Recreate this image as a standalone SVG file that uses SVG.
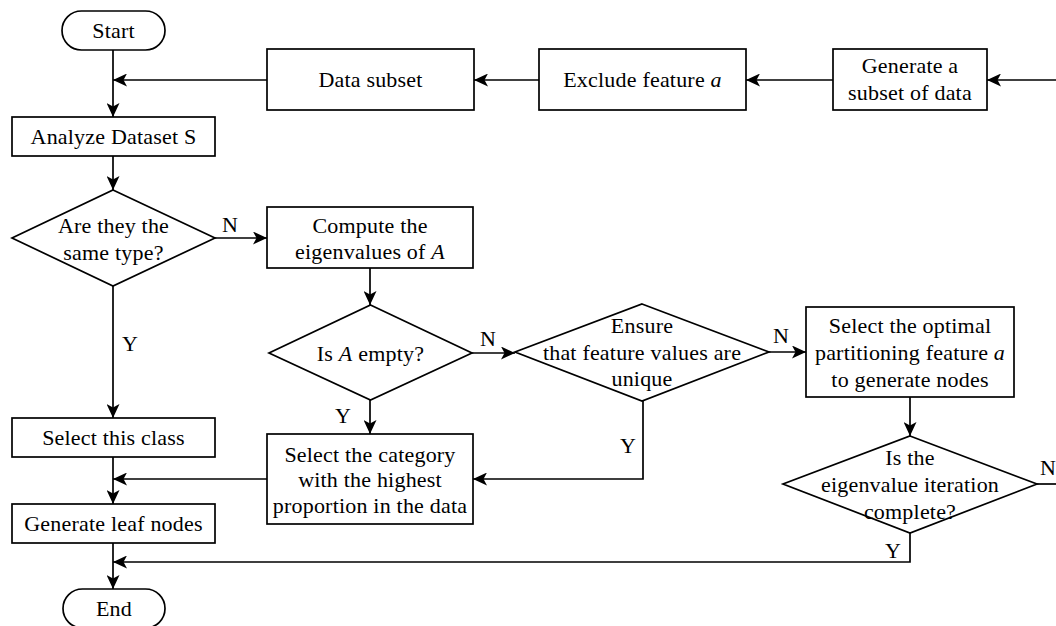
<svg xmlns="http://www.w3.org/2000/svg" width="1056" height="626" viewBox="0 0 1056 626">
<style>
.s{fill:#fff;stroke:#000;stroke-width:1.7}
.t{font-family:"Liberation Serif","Times New Roman",serif;font-size:22px;fill:#000;text-anchor:middle;letter-spacing:0.2px}
.c{fill:none;stroke:#000;stroke-width:1.7}
.i{font-style:italic}
</style>
<defs>
<marker id="ah" markerUnits="userSpaceOnUse" markerWidth="15" markerHeight="13" refX="14" refY="6.5" orient="auto">
<path d="M0,0 L14,6.5 L0,13 L3.5,6.5 Z" fill="#000"/>
</marker>
</defs>
<rect width="1056" height="626" fill="#fff"/>
<g id="connectors">
<path class="c" d="M113,50 V117" marker-end="url(#ah)"/>
<path class="c" d="M267,80 H113" marker-end="url(#ah)"/>
<path class="c" d="M539,80 H474" marker-end="url(#ah)"/>
<path class="c" d="M833,80 H746" marker-end="url(#ah)"/>
<path class="c" d="M1056,80 H987" marker-end="url(#ah)"/>
<path class="c" d="M113,156 V190" marker-end="url(#ah)"/>
<path class="c" d="M215,238 H267" marker-end="url(#ah)"/>
<path class="c" d="M113,286 V418" marker-end="url(#ah)"/>
<path class="c" d="M370,268 V305" marker-end="url(#ah)"/>
<path class="c" d="M472,353 H515" marker-end="url(#ah)"/>
<path class="c" d="M370,400 V434" marker-end="url(#ah)"/>
<path class="c" d="M769,352 H806" marker-end="url(#ah)"/>
<path class="c" d="M643,401 V479 H473" marker-end="url(#ah)"/>
<path class="c" d="M267,479 H113" marker-end="url(#ah)"/>
<path class="c" d="M113,457 V504" marker-end="url(#ah)"/>
<path class="c" d="M910,397 V436" marker-end="url(#ah)"/>
<path class="c" d="M1037,484 H1056"/>
<path class="c" d="M910,533 V562 H113" marker-end="url(#ah)"/>
<path class="c" d="M113,543 V589" marker-end="url(#ah)"/>
<text class="t" x="230" y="232">N</text>
<text class="t" x="130" y="351">Y</text>
<text class="t" x="488" y="346">N</text>
<text class="t" x="343" y="423">Y</text>
<text class="t" x="781" y="343">N</text>
<text class="t" x="628" y="453">Y</text>
<text class="t" x="1048" y="475">N</text>
<text class="t" x="893" y="558">Y</text>
</g>
<g id="start">
<rect class="s" x="62" y="11" width="103" height="39" rx="19.5"/>
<text class="t" x="113.5" y="38">Start</text>
</g>
<g id="analyze">
<rect class="s" x="12" y="117" width="203" height="39"/>
<text class="t" x="113.5" y="144">Analyze Dataset S</text>
</g>
<g id="data-subset">
<rect class="s" x="267" y="49" width="207" height="61"/>
<text class="t" x="370.5" y="87">Data subset</text>
</g>
<g id="exclude">
<rect class="s" x="539" y="49" width="207" height="61"/>
<text class="t" x="642.5" y="87">Exclude feature <tspan class="i">a</tspan></text>
</g>
<g id="generate-subset">
<rect class="s" x="833" y="49" width="154" height="61"/>
<text class="t" x="910" y="73">Generate a</text>
<text class="t" x="910" y="100">subset of data</text>
</g>
<g id="same-type">
<polygon class="s" points="113,190 215,238 113,286 12,238"/>
<text class="t" x="113.5" y="233">Are they the</text>
<text class="t" x="113.5" y="260">same type?</text>
</g>
<g id="compute">
<rect class="s" x="267" y="207" width="206" height="61"/>
<text class="t" x="370" y="233">Compute the</text>
<text class="t" x="370" y="259">eigenvalues of <tspan class="i">A</tspan></text>
</g>
<g id="is-empty">
<polygon class="s" points="370.5,305 472,353 370.5,400 269,353"/>
<text class="t" x="370.5" y="361">Is <tspan class="i">A</tspan> empty?</text>
</g>
<g id="ensure">
<polygon class="s" points="642,304 769,352 642,401 515,352"/>
<text class="t" x="642" y="333">Ensure</text>
<text class="t" x="642" y="360">that feature values are</text>
<text class="t" x="642" y="386">unique</text>
</g>
<g id="optimal">
<rect class="s" x="806" y="307" width="208" height="90"/>
<text class="t" x="910" y="333">Select the optimal</text>
<text class="t" x="910" y="360">partitioning feature <tspan class="i">a</tspan></text>
<text class="t" x="910" y="387">to generate nodes</text>
</g>
<g id="iteration">
<polygon class="s" points="910,436 1037,484 910,533 783,484"/>
<text class="t" x="910" y="465">Is the</text>
<text class="t" x="910" y="492">eigenvalue iteration</text>
<text class="t" x="910" y="519">complete?</text>
</g>
<g id="select-class">
<rect class="s" x="12" y="418" width="203" height="39"/>
<text class="t" x="113.5" y="445">Select this class</text>
</g>
<g id="select-category">
<rect class="s" x="267" y="434" width="206" height="90"/>
<text class="t" x="370" y="462">Select the category</text>
<text class="t" x="370" y="487">with the highest</text>
<text class="t" x="370" y="513">proportion in the data</text>
</g>
<g id="leaf">
<rect class="s" x="12" y="504" width="203" height="39"/>
<text class="t" x="113.5" y="531">Generate leaf nodes</text>
</g>
<g id="end">
<rect class="s" x="63" y="589" width="102" height="39" rx="19.5"/>
<text class="t" x="114" y="616">End</text>
</g>
</svg>
